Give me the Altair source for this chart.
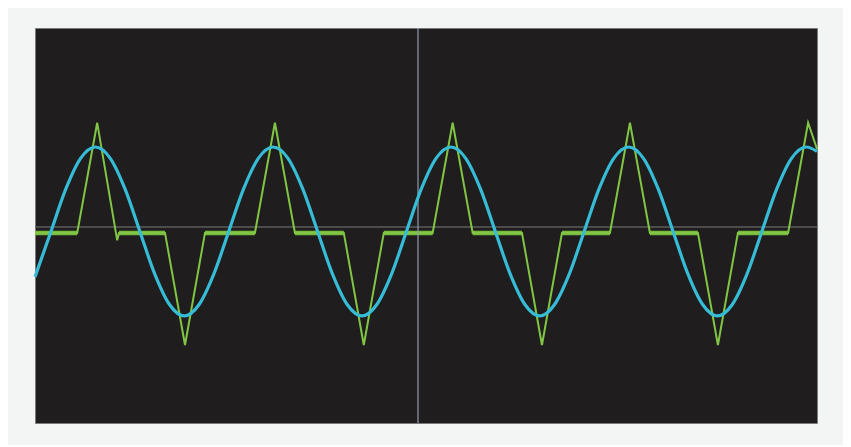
import altair as alt
import pandas as pd

# Blue trace (time in ms, amplitude in divisions)
blue_t = [0.0, 1.8, 3.47, 5.13, 6.8, 8.47, 10.13, 11.8, 13.47, 15.13, 16.8, 18.47, 20.13,
          21.8, 23.47, 25.13, 26.8, 28.47, 30.13, 31.8, 33.47, 35.13, 36.8, 38.47, 40.13,
          41.8, 43.47, 45.13, 46.8, 48.47, 50.13, 51.8, 53.47, 55.13, 56.8, 58.47, 60.13,
          61.8, 63.47, 65.13, 66.8, 68.47, 70.13, 71.8, 73.47, 75.13, 76.8, 78.47, 80.13,
          81.8, 83.47, 85.13, 86.8, 88.0]
blue_v = [-1.04, -0.12, 0.74, 1.36, 1.59, 1.36, 0.74, -0.12, -0.98, -1.60, -1.83, -1.60, -0.98,
          -0.12, 0.74, 1.36, 1.59, 1.36, 0.74, -0.12, -0.98, -1.60, -1.83, -1.60, -0.98,
          -0.12, 0.74, 1.36, 1.59, 1.36, 0.74, -0.12, -0.98, -1.60, -1.83, -1.60, -0.98,
          -0.12, 0.74, 1.36, 1.59, 1.36, 0.74, -0.12, -0.98, -1.60, -1.83, -1.60, -0.98,
          -0.12, 0.74, 1.36, 1.59, 1.50]

# Green trace vertices
green_t = [0.0, 4.75, 7.0, 9.25, 9.45, 14.63, 16.88, 19.13, 24.75, 27.0, 29.25, 34.75, 37.0, 39.25,
           44.75, 47.0, 49.25, 54.8, 57.05, 59.3, 64.7, 66.95, 69.2, 74.6, 76.85, 79.1,
           84.75, 87.0, 88.0]
green_v = [-0.15, -0.15, 2.08, -0.30, -0.15, -0.15, -2.42, -0.15, -0.15, 2.08, -0.15, -0.15, -2.42, -0.15,
           -0.15, 2.08, -0.15, -0.15, -2.42, -0.15, -0.15, 2.08, -0.15, -0.15, -2.42, -0.15,
           -0.15, 2.08, 1.55]

# Flat (conduction-off) segments of the green trace
flat_start = [0.0, 9.45, 19.13, 29.25, 39.25, 49.25, 59.3, 69.2, 79.1]
flat_end = [4.75, 14.63, 24.75, 34.75, 44.75, 54.8, 64.7, 74.6, 84.75]
flat_level = -0.15

h_line = [-0.03]
v_line = [43.1]

x_scale = alt.Scale(domain=[0, 88], nice=False, zero=False)
y_scale = alt.Scale(domain=[-4, 4], nice=False, zero=False)

blue_df = pd.DataFrame({"t": blue_t, "v": blue_v})
green_df = pd.DataFrame({"t": green_t, "v": green_v})
flat_df = pd.DataFrame({"t": flat_start, "t2": flat_end, "v": [flat_level] * len(flat_start)})
h_df = pd.DataFrame({"v": h_line})
v_df = pd.DataFrame({"t": v_line})

hline = alt.Chart(h_df).mark_rule(color="#5c5c5c", strokeWidth=1.5).encode(
    y=alt.Y("v:Q", scale=y_scale, axis=None))

flat = alt.Chart(flat_df).mark_rule(color="#7cc23f", strokeWidth=4.5, opacity=0.95).encode(
    x=alt.X("t:Q", scale=x_scale, axis=None), x2="t2:Q",
    y=alt.Y("v:Q", scale=y_scale, axis=None))

green = alt.Chart(green_df).mark_line(color="#80c644", strokeWidth=2).encode(
    x=alt.X("t:Q", scale=x_scale, axis=None),
    y=alt.Y("v:Q", scale=y_scale, axis=None), order="t:Q")

vline = alt.Chart(v_df).mark_rule(color="#8e9cab", strokeWidth=1.2).encode(
    x=alt.X("t:Q", scale=x_scale, axis=None))

blue = alt.Chart(blue_df).mark_line(color="#36bcd6", strokeWidth=3.2, interpolate="monotone").encode(
    x=alt.X("t:Q", scale=x_scale, axis=None),
    y=alt.Y("v:Q", scale=y_scale, axis=None), order="t:Q")

chart = alt.layer(hline, flat, green, vline, blue).properties(
    width=835, height=437,
    autosize=alt.AutoSizeParams(type="fit", contains="padding"),
    padding={"left": 20, "top": 19, "right": 19, "bottom": 21},
    background="#f3f5f5",
).configure_view(fill="#1f1d1e", stroke="#7a7a7a", strokeWidth=1)

chart.save("out.html", embed_options={"renderer": "svg", "actions": False})
